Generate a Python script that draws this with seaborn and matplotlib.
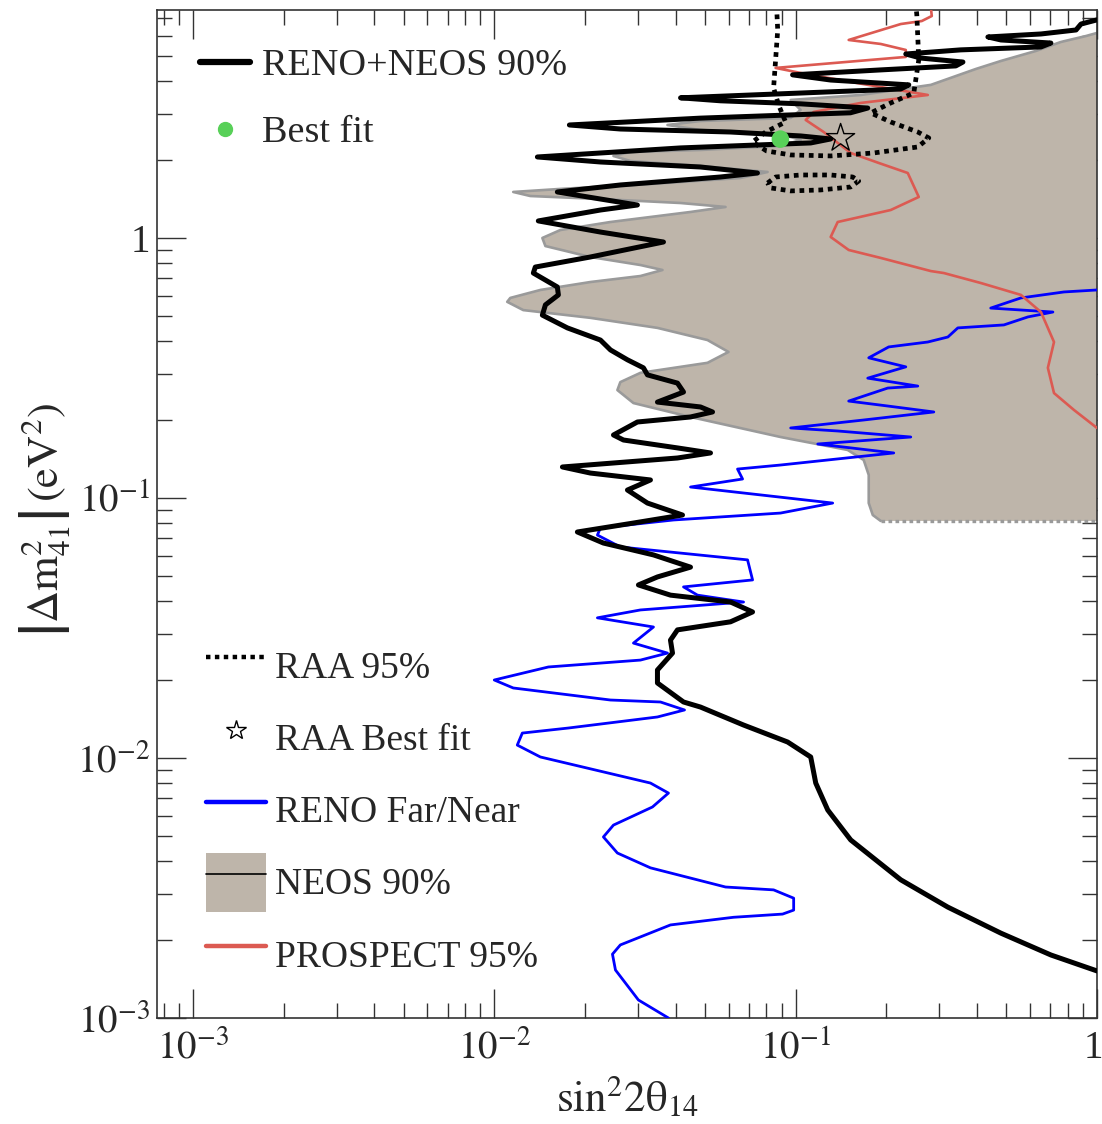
import numpy as np
import pandas as pd
import matplotlib
matplotlib.use("Agg")
import matplotlib.pyplot as plt
import matplotlib.transforms as mtransforms
import seaborn as sns
from matplotlib.lines import Line2D
from matplotlib.patches import Patch
from matplotlib.ticker import FixedLocator, FixedFormatter, LogLocator, NullFormatter

# ---------------- data (sin^2 2theta14 , |dm41^2| in eV^2) ----------------
reno_neos_x = [1.0, 0.885, 0.852, 0.652, 0.4345, 0.480, 0.703, 0.652, 0.353, 0.232,
               0.260, 0.359, 0.340, 0.1916, 0.0977, 0.1307, 0.2374, 0.223, 0.104, 0.0415,
               0.0563, 0.104, 0.1735, 0.152, 0.0483, 0.01775, 0.0262, 0.0608, 0.104, 0.1307,
               0.1122, 0.0415, 0.0139, 0.0225, 0.0483, 0.0747, 0.0563, 0.0262, 0.01619, 0.0225,
               0.02985, 0.0225, 0.0140, 0.0225, 0.03643, 0.02084, 0.01368, 0.01348, 0.01619, 0.01632,
               0.01478, 0.01444, 0.01748, 0.0225, 0.0243, 0.02766, 0.03126, 0.03223, 0.04054, 0.04246,
               0.03479, 0.04834, 0.05299, 0.04478, 0.02985, 0.02486, 0.02683, 0.04054, 0.05218, 0.04054,
               0.01683, 0.02084, 0.03298, 0.02766, 0.03223, 0.04213, 0.02896, 0.01887, 0.02302, 0.03375,
               0.04478, 0.03479, 0.03008, 0.03843, 0.0608, 0.07196, 0.0608, 0.04054, 0.03843, 0.03903,
               0.03479, 0.03479, 0.04246, 0.04834, 0.06717, 0.09406, 0.1122, 0.1166, 0.1278, 0.1523,
               0.2233, 0.3198, 0.4798, 0.7034, 1.0]
reno_neos_y = [6.90, 6.65, 6.31, 6.09, 5.93, 5.775, 5.62, 5.43, 5.29, 5.10,
               4.92, 4.75, 4.59, 4.43, 4.24, 4.05, 3.88, 3.74, 3.61, 3.46,
               3.37, 3.28, 3.16, 3.03, 2.89, 2.72, 2.625, 2.556, 2.468, 2.403,
               2.32, 2.22, 2.049, 1.960, 1.875, 1.778, 1.716, 1.599, 1.503, 1.412,
               1.339, 1.281, 1.163, 1.054, 0.965, 0.845, 0.773, 0.733, 0.648, 0.604,
               0.553, 0.505, 0.451, 0.405, 0.371, 0.340, 0.3166, 0.2975, 0.2766, 0.2555,
               0.2338, 0.2239, 0.2142, 0.2049, 0.1960, 0.1747, 0.1671, 0.1558, 0.1490, 0.1425,
               0.1316, 0.1247, 0.1173, 0.1073, 0.0956, 0.0860, 0.0801, 0.0740, 0.0671, 0.0604,
               0.0542, 0.0497, 0.0463, 0.0423, 0.0398, 0.03645, 0.0334, 0.0311, 0.0284, 0.02532,
               0.0218, 0.01943, 0.01642, 0.0157, 0.01339, 0.01152, 0.01009, 0.00801, 0.00631, 0.00484,
               0.00340, 0.00267, 0.00212, 0.001747, 0.001517]

neos_x = [1.0, 0.919, 0.759, 0.627, 0.480, 0.3963, 0.281, 0.1644, 0.0963, 0.1039,
          0.0963, 0.0483, 0.03756, 0.0483, 0.0891, 0.1039, 0.0891, 0.0483, 0.0283, 0.02486,
          0.0283, 0.0483, 0.0807, 0.0656, 0.033, 0.01657,
          0.01156, 0.01317, 0.0225, 0.0415, 0.05853, 0.0448, 0.0243, 0.01657, 0.01444, 0.01478,
          0.02084, 0.03055, 0.03615, 0.03055, 0.02084, 0.01422, 0.0113, 0.01104, 0.01248, 0.02084,
          0.03479, 0.05099, 0.05987, 0.05099, 0.03055, 0.0262, 0.02562, 0.02896, 0.0448, 0.0891,
          0.1488, 0.1682, 0.1748, 0.1748, 0.1803, 0.1916, 1.0]
neos_y = [6.145, 5.98, 5.674, 5.24, 4.795, 4.467, 3.88, 3.548, 3.395, 3.107,
          2.894, 2.818, 2.72, 2.602, 2.511, 2.382, 2.259, 2.18, 2.142, 2.067,
          1.977, 1.892, 1.794, 1.701, 1.613, 1.544,
          1.503, 1.450, 1.412, 1.363, 1.316, 1.259, 1.152, 1.073, 1.0, 0.931,
          0.845, 0.787, 0.753, 0.714, 0.677, 0.631, 0.588, 0.568, 0.528, 0.493,
          0.451, 0.405, 0.3645, 0.331, 0.3029, 0.279, 0.260, 0.2318, 0.2049, 0.1716,
          0.153, 0.140, 0.1226, 0.0956, 0.0860, 0.0816, 0.0816]

reno_fn_x = [1.0, 0.777, 0.559, 0.444, 0.714, 0.590, 0.491, 0.3453, 0.320, 0.2745,
             0.2036, 0.1748, 0.232, 0.1735, 0.2543, 0.2021, 0.150, 0.2021, 0.2874, 0.1682,
             0.0963, 0.1379, 0.241, 0.1184, 0.2116, 0.0891, 0.06415, 0.06666, 0.0448, 0.1327,
             0.0891, 0.03933, 0.0225, 0.02199, 0.0262, 0.06925, 0.07196, 0.04246, 0.04724, 0.06717,
             0.03055, 0.02199, 0.03375, 0.02896, 0.03756, 0.03055, 0.01512, 0.0100, 0.01156, 0.02429,
             0.0356, 0.04278, 0.03479, 0.01762, 0.01239, 0.01192, 0.01422, 0.03298, 0.03784, 0.03349,
             0.02486, 0.02302, 0.02562, 0.03298, 0.05853, 0.0845, 0.0985, 0.0985, 0.0905, 0.06223,
             0.03843, 0.0262, 0.02467, 0.02524, 0.03008, 0.03784]
reno_fn_y = [0.631, 0.620, 0.588, 0.5375, 0.519, 0.497, 0.463, 0.451, 0.416, 0.398,
             0.381, 0.346, 0.3194, 0.289, 0.2694, 0.2647, 0.2359, 0.2258, 0.2142, 0.1995,
             0.1859, 0.181, 0.1716, 0.1613, 0.149, 0.1339, 0.1292, 0.1183, 0.1102, 0.0956,
             0.0875, 0.0823, 0.0767, 0.0720, 0.0648, 0.0578, 0.0484, 0.0455, 0.0423, 0.0398,
             0.0371, 0.0346, 0.0319, 0.02766, 0.02532, 0.0238, 0.02239, 0.01995, 0.01859, 0.01671,
             0.01642, 0.0153, 0.01438, 0.01304, 0.01247, 0.01121, 0.01009, 0.00801, 0.00733, 0.00648,
             0.00552, 0.00497, 0.00431, 0.00378, 0.00319, 0.00311, 0.00289, 0.0026, 0.00251, 0.00244,
             0.00228, 0.00191, 0.00176, 0.00153, 0.001173, 0.001]

prospect_x = [0.281, 0.283, 0.2622, 0.2233, 0.150, 0.1916, 0.232, 0.232, 0.0858, 0.1039,
              0.1523, 0.2745, 0.1644, 0.1148, 0.108, 0.1239, 0.1523, 0.1887, 0.2355, 0.2562,
              0.2068, 0.1379, 0.1307, 0.150, 0.1916, 0.2809, 0.3103, 0.4118, 0.5592, 0.6516,
              0.720, 0.687, 0.720, 0.8387, 1.0]
prospect_y = [7.67, 7.14, 6.83, 6.65, 5.775, 5.574, 5.286, 4.969, 4.508, 4.312,
              3.982, 3.548, 3.306, 3.053, 2.843, 2.556, 2.123, 1.943, 1.778, 1.438,
              1.281, 1.152, 1.009, 0.899, 0.838, 0.746, 0.733, 0.671, 0.604, 0.519,
              0.398, 0.3166, 0.2532, 0.218, 0.1859]

raa_a_x = [0.0864, 0.0872, 0.0858, 0.0845, 0.0878, 0.0926, 0.0795, 0.07196, 0.0801, 0.0963,
           0.1307, 0.1816, 0.2543, 0.2766, 0.2543, 0.2068, 0.1775, 0.2068, 0.2466, 0.2562,
           0.2524, 0.2505]
raa_a_y = [7.87, 6.31, 4.838, 3.776, 3.248, 2.793, 2.556, 2.34, 2.161, 2.086,
           2.068, 2.123, 2.239, 2.425, 2.556, 2.793, 3.026, 3.306, 3.612, 4.838,
           7.21, 7.87]
raa_b_x = [0.0807, 0.0858, 0.1039, 0.1307, 0.1547, 0.1619, 0.1523, 0.1211, 0.0963, 0.0826, 0.0807]
raa_b_y = [1.627, 1.716, 1.747, 1.747, 1.716, 1.656, 1.571, 1.530, 1.517, 1.558, 1.627]

best_fit_x, best_fit_y = [0.089], [2.40]
raa_best_x, raa_best_y = [0.141], [2.42]

x_tick_values = [1e-3, 1e-2, 1e-1, 1.0]
x_tick_labels = [r"$10^{-3}$", r"$10^{-2}$", r"$10^{-1}$", "1"]
y_tick_values = [1e-3, 1e-2, 1e-1, 1.0]
y_tick_labels = [r"$10^{-3}$", r"$10^{-2}$", r"$10^{-1}$", "1"]

legend_top_labels = ["RENO+NEOS 90%", "Best fit"]
legend_bottom_labels = ["RAA 95%", "RAA Best fit", "RENO Far/Near", "NEOS 90%", "PROSPECT 95%"]

# ---------------- style ----------------
FILL = "#beb5aa"
EDGE = "#9a9a9a"
BLUE = "#0000ff"
RED = "#dc5a52"
GREEN = "#58d058"

sns.set_theme(style="ticks")
plt.rcParams["font.family"] = ["Liberation Serif", "DejaVu Serif"]
plt.rcParams["mathtext.fontset"] = "stix"

fig = plt.figure(figsize=(11.02, 11.24), dpi=100)
ax = fig.add_axes([157 / 1102, 1 - 1018 / 1124, 940 / 1102, 1008 / 1124])
ax.set_xscale("log")
ax.set_yscale("log")
ax.set_xlim(7.6e-4, 1.0)
ax.set_ylim(1e-3, 7.53)

# NEOS region
ax.fill(neos_x, neos_y, facecolor=FILL, edgecolor="none", zorder=1)
sns.lineplot(x=neos_x[:-1], y=neos_y[:-1], sort=False, estimator=None, color=EDGE, lw=1.9, ax=ax, zorder=2)
sns.lineplot(x=neos_x[-2:], y=neos_y[-2:], sort=False, estimator=None, color=EDGE, lw=2.4, ax=ax, zorder=2)
ax.lines[-1].set_dashes((1.1, 1.0))
ax.lines[-1].set_dash_capstyle("butt")

# RENO Far/Near
sns.lineplot(x=reno_fn_x, y=reno_fn_y, sort=False, estimator=None, color=BLUE, lw=2.0, ax=ax, zorder=3)
# PROSPECT
sns.lineplot(x=prospect_x, y=prospect_y, sort=False, estimator=None, color=RED, lw=1.9, ax=ax, zorder=3)
# RAA contours
for xs, ys in [(raa_a_x, raa_a_y), (raa_b_x, raa_b_y)]:
    sns.lineplot(x=xs, y=ys, sort=False, estimator=None, color="black", lw=3.4, ax=ax, zorder=4)
    ax.lines[-1].set_dashes((1.0, 1.0))
    ax.lines[-1].set_dash_capstyle("butt")
# RENO+NEOS
sns.lineplot(x=reno_neos_x, y=reno_neos_y, sort=False, estimator=None, color="black", lw=3.6, ax=ax, zorder=5)

sns.scatterplot(x=best_fit_x, y=best_fit_y, color=GREEN, s=160, edgecolor="none", ax=ax, zorder=6)
sns.scatterplot(x=raa_best_x, y=raa_best_y, marker="*", s=450, facecolor="none", edgecolor="black",
                linewidth=1.0, ax=ax, zorder=6)

# ---------------- axes ----------------
ax.xaxis.set_major_locator(FixedLocator(x_tick_values))
ax.xaxis.set_major_formatter(FixedFormatter(x_tick_labels))
ax.yaxis.set_major_locator(FixedLocator(y_tick_values))
ax.yaxis.set_major_formatter(FixedFormatter(y_tick_labels))
ax.xaxis.set_minor_locator(LogLocator(base=10, subs=np.arange(2, 10)))
ax.yaxis.set_minor_locator(LogLocator(base=10, subs=np.arange(2, 10)))
ax.xaxis.set_minor_formatter(NullFormatter())
ax.yaxis.set_minor_formatter(NullFormatter())
ax.tick_params(which="both", direction="in", top=True, right=True, color="#333333")
ax.tick_params(which="major", length=21, width=1.0, labelsize=28)
ax.tick_params(axis="x", which="major", pad=9)
ax.tick_params(axis="y", which="major", pad=5)
ax.tick_params(which="minor", length=10.5, width=1.0)
for s in ax.spines.values():
    s.set_color("#333333")
    s.set_linewidth(1.2)

# keep the right-most "1" label fully inside the canvas
last_lbl = ax.xaxis.get_majorticklabels()[-1]
last_lbl.set_transform(last_lbl.get_transform() +
                       mtransforms.ScaledTranslation(-4 / 100, 0, fig.dpi_scale_trans))

ax.set_xlabel(r"$\mathrm{sin}^{2}2\mathrm{\theta}_{14}$", fontsize=31)
ax.xaxis.set_label_coords(0.5, -0.056)
ax.set_ylabel(r"$\left|\Delta\mathrm{m}^{2}_{41}\right|\,(\mathrm{eV}^{2})$", fontsize=32)
ax.yaxis.set_label_coords(-0.090, 0.494)

# ---------------- legends ----------------
FS = 27.5
h1 = [Line2D([], [], color="black", lw=4.5),
      Line2D([], [], marker="o", linestyle="none", markerfacecolor=GREEN, markeredgecolor=GREEN, markersize=10)]
leg1 = ax.legend(h1, legend_top_labels, loc="center left", bbox_to_anchor=(0.0457, 0.9112),
                 frameon=False, fontsize=FS, handlelength=1.31, handletextpad=0.31,
                 labelspacing=0.85, borderpad=0, borderaxespad=0)
ax.add_artist(leg1)

h2 = [Line2D([], [], color="black", lw=3.2, dashes=(1.0, 1.0), dash_capstyle="butt"),
      Line2D([], [], marker="*", linestyle="none", markerfacecolor="white", markeredgecolor="black",
             markersize=15, markeredgewidth=1.0),
      Line2D([], [], color=BLUE, lw=3.2),
      (Patch(facecolor=FILL, edgecolor="none"), Line2D([], [], color="black", lw=1.2)),
      Line2D([], [], color=RED, lw=3.2)]
leg2 = ax.legend(h2, legend_bottom_labels, loc="center left", bbox_to_anchor=(0.0521, 0.2059),
                 frameon=False, fontsize=27, handlelength=1.6, handleheight=2.03,
                 handletextpad=0.25, labelspacing=0.36, borderpad=0, borderaxespad=0)

fig.savefig("out.png", dpi=100)
